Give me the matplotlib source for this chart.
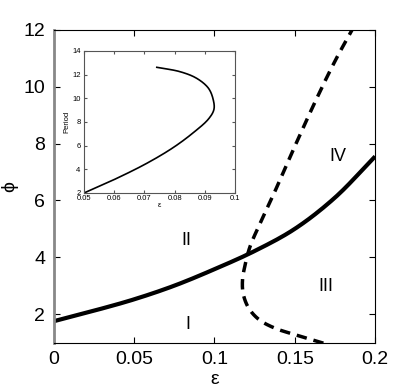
import numpy as np
import matplotlib.pyplot as plt

plt.rcParams['font.family'] = ['Liberation Sans', 'DejaVu Sans']

# solid boundary
eps_solid = [0, 0.025, 0.05, 0.075, 0.1, 0.125, 0.15, 0.175, 0.2]
phi_solid = [1.75, 2.12, 2.52, 3.0, 3.58, 4.22, 5.0, 6.1, 7.55]

# dashed boundary
eps_dash = [0.1678, 0.152, 0.138, 0.128, 0.1215, 0.118, 0.1175, 0.119, 0.1222,
            0.1285, 0.1375, 0.150, 0.1625, 0.175, 0.1886]
phi_dash = [0.98, 1.25, 1.5, 1.8, 2.2, 2.7, 3.2, 3.7, 4.38,
            5.2, 6.3, 7.9, 9.45, 10.9, 12.3]

# inset: period vs epsilon
eps_in = [0.05, 0.0597, 0.0708, 0.0796, 0.0862, 0.0912, 0.093, 0.0928,
          0.0912, 0.0873, 0.0818, 0.0741]
period_in = [2.0, 3.1, 4.51, 5.85, 7.1, 8.25, 9.05, 9.86,
             10.85, 11.69, 12.25, 12.62]

region_labels = ['I', 'II', 'III', 'IV']
region_pos = [(0.0835, 1.65), (0.0825, 4.6), (0.1695, 2.97), (0.177, 7.53)]


def smooth(x, y, xr, yr, n=20):
    # Catmull-Rom through the read points, done in axes-normalised coords
    p = np.column_stack([np.asarray(x) / xr, np.asarray(y) / yr]).astype(float)
    p = np.vstack([2 * p[0] - p[1], p, 2 * p[-1] - p[-2]])
    out = []
    for i in range(1, len(p) - 2):
        p0, p1, p2, p3 = p[i - 1], p[i], p[i + 1], p[i + 2]
        d0 = np.linalg.norm(p1 - p0) ** 0.5
        d1 = np.linalg.norm(p2 - p1) ** 0.5
        d2 = np.linalg.norm(p3 - p2) ** 0.5
        m1 = (p2 - p1) + d1 * ((p1 - p0) / d0 - (p2 - p0) / (d0 + d1))
        m2 = (p2 - p1) + d1 * ((p3 - p2) / d2 - (p3 - p1) / (d1 + d2))
        t = np.linspace(0, 1, n, endpoint=False)[:, None]
        h00 = 2 * t**3 - 3 * t**2 + 1
        h10 = t**3 - 2 * t**2 + t
        h01 = -2 * t**3 + 3 * t**2
        h11 = t**3 - t**2
        out.append(h00 * p1 + h10 * m1 + h01 * p2 + h11 * m2)
    out.append(p[-2][None, :])
    out = np.vstack(out)
    return out[:, 0] * xr, out[:, 1] * yr


fig = plt.figure(figsize=(4.15, 3.88), dpi=100)
ax = fig.add_axes([0.129, 0.117, 0.775, 0.806])

xs, ys = smooth(eps_solid, phi_solid, 0.2, 11)
ax.plot(xs, ys, color='black', lw=3, solid_capstyle='butt')
xd, yd = smooth(eps_dash, phi_dash, 0.2, 11)
ax.plot(xd, yd, color='black', lw=2.5, dashes=(3, 2))

for lab, (px, py) in zip(region_labels, region_pos):
    ax.text(px, py, lab, fontsize=13, ha='center', va='center')

ax.set_xlim(0, 0.2)
ax.set_ylim(1, 12)
ax.set_xticks([0, 0.05, 0.1, 0.15, 0.2])
ax.set_xticklabels(['0', '0.05', '0.1', '0.15', '0.2'])
ax.set_yticks([2, 4, 6, 8, 10, 12])
ax.tick_params(direction='in', top=True, right=True, labelsize=14, length=4, pad=6)
ax.set_xlabel('ε', fontsize=14, labelpad=2)
ax.set_ylabel('ϕ', fontsize=14, labelpad=4)
ax.spines['left'].set_color('#888888')
ax.spines['left'].set_linewidth(2)

ins = fig.add_axes([0.2024, 0.5026, 0.364, 0.366])
xi, yi = smooth(eps_in, period_in, 0.05, 12)
ins.plot(xi, yi, color='black', lw=1.2)
ins.set_xlim(0.05, 0.1)
ins.set_ylim(2, 14)
ins.set_xticks([0.05, 0.06, 0.07, 0.08, 0.09, 0.1])
ins.set_xticklabels(['0.05', '0.06', '0.07', '0.08', '0.09', '0.1'])
ins.set_yticks([2, 4, 6, 8, 10, 12, 14])
ins.tick_params(direction='in', top=True, right=True, labelsize=5.5, length=2, pad=1.5,
                color='#555555')
ins.tick_params(axis='y', pad=2.5)
ins.set_xlabel('ε', fontsize=5.5, labelpad=0)
ins.set_ylabel('Period', fontsize=5.5, labelpad=1)
for s in ins.spines.values():
    s.set_color('#555555')
    s.set_linewidth(0.8)

fig.savefig('out.png', dpi=100)
